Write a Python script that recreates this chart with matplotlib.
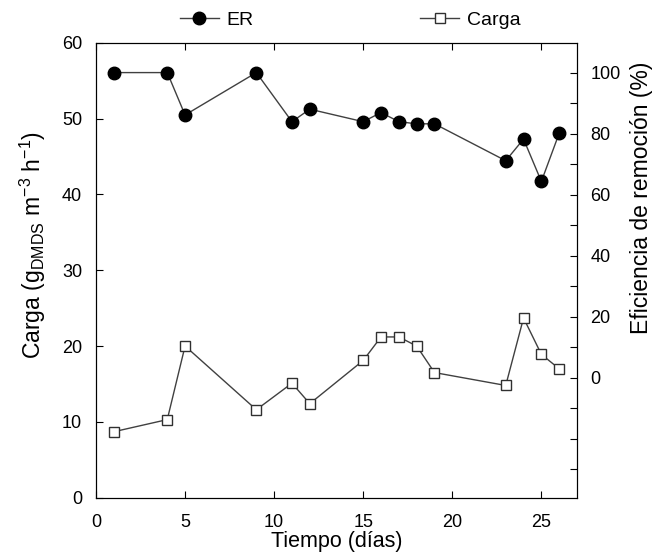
import matplotlib
matplotlib.use('Agg')
import matplotlib.pyplot as plt

plt.rcParams['font.family'] = ['Liberation Sans', 'DejaVu Sans']
plt.rcParams['mathtext.fontset'] = 'custom'
plt.rcParams['mathtext.rm'] = 'Liberation Sans'
plt.rcParams['font.size'] = 13

dias = [1, 4, 5, 9, 11, 12, 15, 16, 17, 18, 19, 23, 24, 25, 26]
er = [100, 100, 86.1, 100, 83.9, 88.0, 83.9, 86.9, 83.9, 83.2, 83.2, 71.1, 78.2, 64.3, 80.1]
carga = [8.7, 10.3, 20.0, 11.6, 15.1, 12.4, 18.1, 21.2, 21.2, 20.0, 16.5, 14.8, 23.7, 18.9, 17.0]

fig = plt.figure(figsize=(6.54, 5.56), dpi=100)
ax = fig.add_axes([96 / 654, 1 - 497.7 / 556, 481 / 654, 455 / 556])
ax2 = ax.twinx()

line_c, = ax.plot(dias, carga, color='#404040', lw=1, marker='s', ms=7.7,
                  mfc='white', mec='#303030', mew=1, label='Carga', zorder=3)
line_e, = ax2.plot(dias, er, color='#404040', lw=1, marker='o', ms=9,
                   mfc='black', mec='black', label='ER', zorder=3)

ax.set_xlim(0, 27)
ax.set_ylim(0, 60)
ax2.set_ylim(-39.4, 109.8)
ax.set_xticks([0, 5, 10, 15, 20, 25])
ax.set_yticks(range(0, 61, 10))
ax2.set_yticks(range(-30, 101, 10))
ax2.set_yticklabels([str(v) if v >= 0 and v % 20 == 0 else '' for v in range(-30, 101, 10)])

ax.tick_params(axis='x', direction='in', top=True, length=5, pad=12)
ax.tick_params(axis='y', direction='in', length=5, pad=10)
ax2.tick_params(axis='y', direction='in', length=5, pad=9.5)

ax.set_xlabel('Tiempo (días)', fontsize=15.5, labelpad=0)
ax.set_ylabel(r'Carga (g$_{\mathrm{DMDS}}$ m$^{-3}$ h$^{-1}$)', fontsize=16.5)
ax.yaxis.set_label_coords(-0.1, 0.555)
ax2.set_ylabel('Eficiencia de remoción (%)', fontsize=16.5, rotation=90)
ax2.yaxis.set_label_coords(1.110, 0.659)

fig.legend([line_e, line_c], ['ER', 'Carga'], ncol=2, frameon=False, fontsize=14,
           loc='center left', bbox_to_anchor=(180 / 654, 1 - 20 / 556),
           borderpad=0, borderaxespad=0, handlelength=2.0, handletextpad=0.37,
           columnspacing=8.6)

fig.savefig('out.png', dpi=100)
